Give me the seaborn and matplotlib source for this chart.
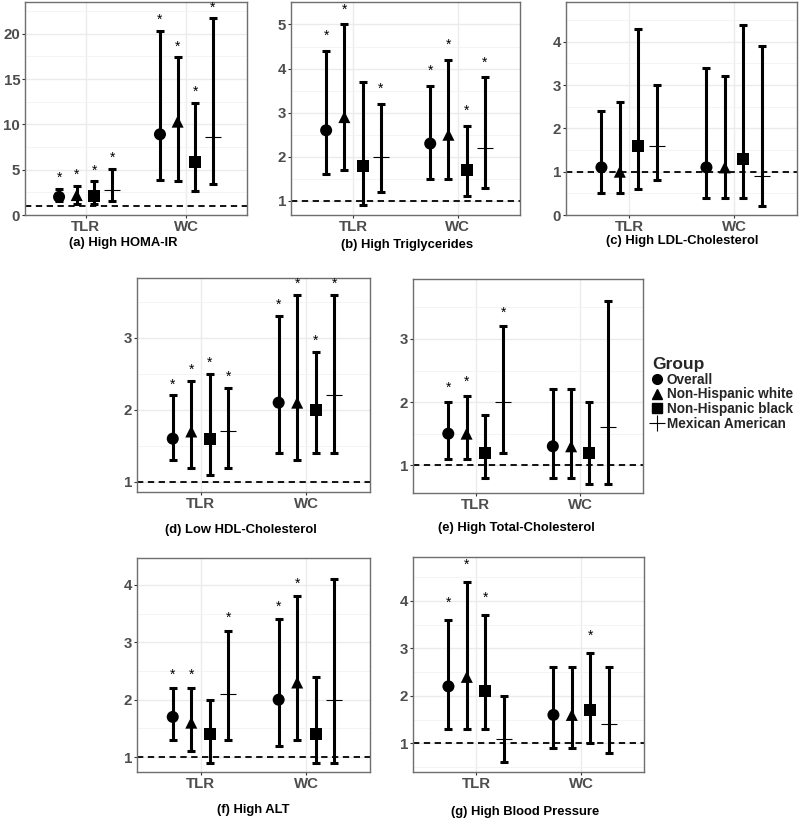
import numpy as np
import pandas as pd
import seaborn as sns
import matplotlib.pyplot as plt
from matplotlib.lines import Line2D
from matplotlib.ticker import MultipleLocator

sns.set_theme(style="whitegrid")
plt.rcParams["font.family"] = ["Liberation Sans", "DejaVu Sans"]

measures = ["TLR", "WC"]
groups = ["Overall", "Non-Hispanic white", "Non-Hispanic black", "Mexican American"]

# odds ratios, order: TLR x 4 groups, then WC x 4 groups
homa_est = [2.0, 2.2, 2.1, 2.8, 8.9, 10.3, 5.8, 8.6]
homa_lo = [1.5, 1.2, 1.2, 1.5, 3.9, 3.8, 2.6, 3.4]
homa_hi = [2.9, 3.2, 3.7, 5.1, 20.3, 17.4, 12.4, 21.7]
homa_sig = [1, 1, 1, 1, 1, 1, 1, 1]

tg_est = [2.6, 2.9, 1.8, 2.0, 2.3, 2.5, 1.7, 2.2]
tg_lo = [1.6, 1.7, 0.9, 1.2, 1.5, 1.5, 1.1, 1.3]
tg_hi = [4.4, 5.0, 3.7, 3.2, 3.6, 4.2, 2.7, 3.8]
tg_sig = [1, 1, 0, 1, 1, 1, 1, 1]

ldl_est = [1.1, 1.0, 1.6, 1.6, 1.1, 1.1, 1.3, 0.9]
ldl_lo = [0.5, 0.5, 0.6, 0.8, 0.4, 0.4, 0.4, 0.2]
ldl_hi = [2.4, 2.6, 4.3, 3.0, 3.4, 3.2, 4.4, 3.9]
ldl_sig = [0, 0, 0, 0, 0, 0, 0, 0]

hdl_est = [1.6, 1.7, 1.6, 1.7, 2.1, 2.1, 2.0, 2.2]
hdl_lo = [1.3, 1.2, 1.1, 1.2, 1.4, 1.3, 1.4, 1.4]
hdl_hi = [2.2, 2.4, 2.5, 2.3, 3.3, 3.6, 2.8, 3.6]
hdl_sig = [1, 1, 1, 1, 1, 1, 1, 1]

tc_est = [1.5, 1.5, 1.2, 2.0, 1.3, 1.3, 1.2, 1.6]
tc_lo = [1.1, 1.1, 0.8, 1.2, 0.8, 0.8, 0.7, 0.7]
tc_hi = [2.0, 2.1, 1.8, 3.2, 2.2, 2.2, 2.0, 3.6]
tc_sig = [1, 1, 0, 1, 0, 0, 0, 0]

alt_est = [1.7, 1.6, 1.4, 2.1, 2.0, 2.3, 1.4, 2.0]
alt_lo = [1.3, 1.1, 0.9, 1.3, 1.2, 1.3, 0.9, 0.9]
alt_hi = [2.2, 2.2, 2.0, 3.2, 3.4, 3.8, 2.4, 4.1]
alt_sig = [1, 1, 0, 1, 1, 1, 0, 0]

bp_est = [2.2, 2.4, 2.1, 1.1, 1.6, 1.6, 1.7, 1.4]
bp_lo = [1.3, 1.3, 1.3, 0.6, 0.9, 0.9, 1.0, 0.8]
bp_hi = [3.6, 4.4, 3.7, 2.0, 2.6, 2.6, 2.9, 2.6]
bp_sig = [1, 1, 1, 0, 0, 0, 1, 0]

titles = [
    "(a) High HOMA-IR",
    "(b) High Triglycerides",
    "(c) High LDL-Cholesterol",
    "(d) Low HDL-Cholesterol",
    "(e) High Total-Cholesterol",
    "(f) High ALT",
    "(g) High Blood Pressure",
]
panel_data = [
    (homa_est, homa_lo, homa_hi, homa_sig),
    (tg_est, tg_lo, tg_hi, tg_sig),
    (ldl_est, ldl_lo, ldl_hi, ldl_sig),
    (hdl_est, hdl_lo, hdl_hi, hdl_sig),
    (tc_est, tc_lo, tc_hi, tc_sig),
    (alt_est, alt_lo, alt_hi, alt_sig),
    (bp_est, bp_lo, bp_hi, bp_sig),
]

# layout in pixels: left, top, right, bottom of each panel; y range; tick step
W, H = 800, 821
boxes = [(25, 2, 247, 215), (291, 2, 520, 215), (566, 2, 797, 215),
         (137, 278, 370, 492), (413, 279, 643, 493),
         (137, 558, 370, 772), (413, 557, 644, 772)]
ylims = [(0, 23.5), (0.68, 5.51), (0, 4.92), (0.86, 3.83), (0.56, 3.95),
         (0.74, 4.47), (0.40, 4.92)]
steps = [5, 1, 1, 1, 1, 1, 1]
star_off = [11, 15, 12, 11, 14, 13, 17]
title_pos = [(123, 243), (407, 245), (682, 241), (241, 530), (516, 528),
             (253, 810), (525, 812)]

offsets = dict(zip(groups, [-0.2625, -0.0875, 0.0875, 0.2625]))
filled_markers = {"Overall": "o", "Non-Hispanic white": "^", "Non-Hispanic black": "s"}

fig = plt.figure(figsize=(W / 100, H / 100), dpi=100)

for i, (est, lo, hi, sig) in enumerate(panel_data):
    l, t, r, b = boxes[i]
    ax = fig.add_axes([l / W, 1 - b / H, (r - l) / W, (b - t) / H])

    df = pd.DataFrame({
        "Measure": np.repeat(measures, 4),
        "Group": groups * 2,
        "OR": est, "lo": lo, "hi": hi, "sig": sig,
    })
    df["x"] = df["Measure"].map({"TLR": 1, "WC": 2}) + df["Group"].map(offsets)

    ax.axhline(1, color="black", lw=1.3, ls=(0, (3.5, 2.5)), zorder=1)
    ax.errorbar(df["x"], df["OR"], yerr=[df["OR"] - df["lo"], df["hi"] - df["OR"]],
                fmt="none", ecolor="black", elinewidth=2.2, capsize=2.9,
                capthick=2.2, zorder=2)

    filled = df[df["Group"] != "Mexican American"]
    sns.scatterplot(data=filled, x="x", y="OR", style="Group",
                    style_order=groups[:3], markers=filled_markers,
                    color="black", s=75, linewidth=0, legend=False, ax=ax, zorder=3)
    mex = df[df["Group"] == "Mexican American"]
    sns.scatterplot(data=mex, x="x", y="OR", marker="+", color="black",
                    s=130, linewidth=0.8, legend=False, ax=ax, zorder=3)

    for _, row in df[df["sig"] == 1].iterrows():
        ax.annotate("*", (row["x"], row["hi"]), xytext=(0, star_off[i]),
                    textcoords="offset pixels", ha="center", va="center",
                    fontsize=10, color="black")

    ax.set_xlim(0.4, 2.6)
    ax.set_xticks([1, 2])
    ax.set_xticklabels(measures)
    ax.set_ylim(*ylims[i])
    ax.yaxis.set_major_locator(MultipleLocator(steps[i]))
    ax.yaxis.set_minor_locator(MultipleLocator(steps[i] / 2))
    ax.set_xlabel("")
    ax.set_ylabel("")
    ax.grid(which="major", color="#EBEBEB", lw=1.0)
    ax.grid(which="minor", axis="y", color="#F2F2F2", lw=0.6)
    ax.tick_params(axis="both", which="major", bottom=True, left=True, length=2,
                   width=0.8, color="#333333", pad=1.5, labelcolor="#4D4D4D")
    ax.tick_params(axis="y", which="minor", left=False)
    ax.tick_params(axis="x", labelsize=10.8)
    ax.tick_params(axis="y", labelsize=10.8)
    for lab in ax.get_xticklabels() + ax.get_yticklabels():
        lab.set_fontweight("bold")
    for sp in ax.spines.values():
        sp.set_color("#6E6E6E")
        sp.set_linewidth(1.0)

    cx, cy = title_pos[i]
    fig.text(cx / W, 1 - cy / H, titles[i], ha="center", va="center",
             fontsize=9.4, fontweight="bold", color="black")

handles = [
    Line2D([], [], marker="o", color="black", ls="none", markersize=7),
    Line2D([], [], marker="^", color="black", ls="none", markersize=7.5),
    Line2D([], [], marker="s", color="black", ls="none", markersize=6.5),
    Line2D([], [], marker="+", color="black", ls="none", markersize=12, mew=0.8),
]
fig.legend(handles, groups, title="Group", loc="upper left",
           bbox_to_anchor=(652 / W, 1 - 357 / H), frameon=False,
           alignment="left", prop={"weight": "bold", "size": 9.8},
           title_fontproperties={"weight": "bold", "size": 12.5},
           handlelength=0.8, handletextpad=0.3, labelspacing=0.05,
           borderpad=0, borderaxespad=0)

fig.savefig("out.png", dpi=100)
